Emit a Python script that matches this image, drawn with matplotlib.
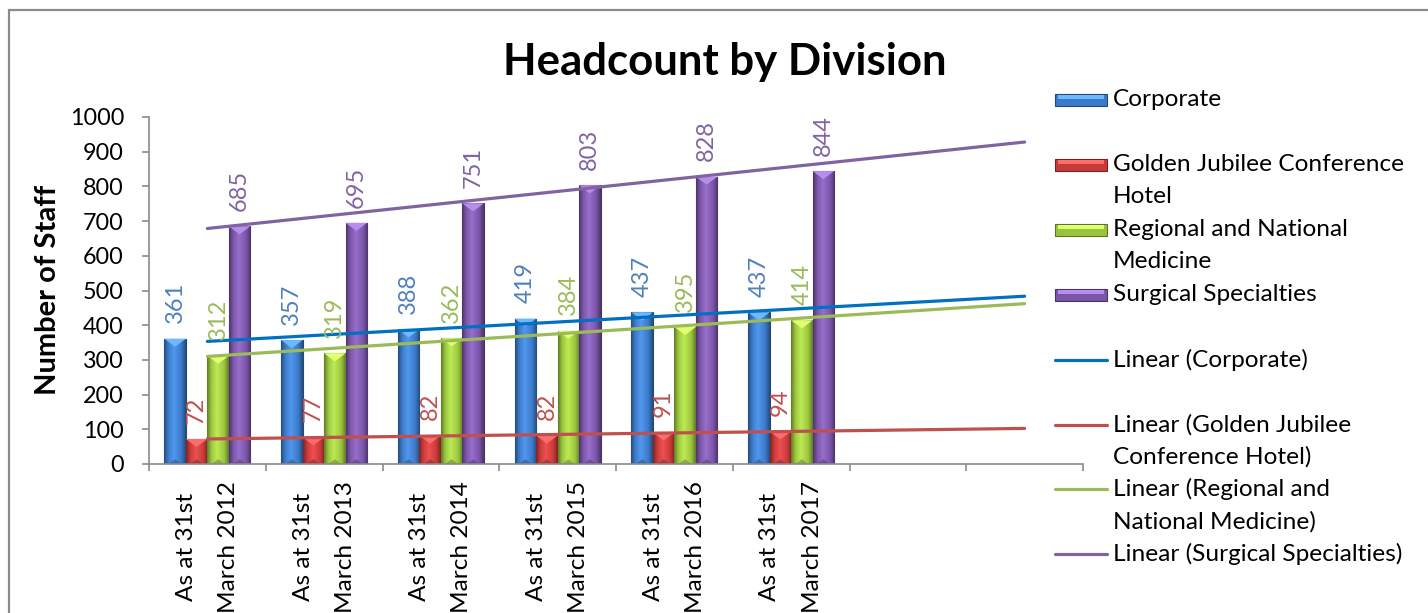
import numpy as np
import matplotlib

matplotlib.use("Agg")
import matplotlib.pyplot as plt  # noqa: E402
from matplotlib.colors import LinearSegmentedColormap, to_rgb  # noqa: E402
from matplotlib.lines import Line2D  # noqa: E402
from matplotlib.patches import Polygon, Rectangle  # noqa: E402

plt.rcParams["font.family"] = ["Lato", "DejaVu Sans"]

# headcount per division, as at 31st March of each year
CATEGORIES = [
    "As at 31st\nMarch 2012",
    "As at 31st\nMarch 2013",
    "As at 31st\nMarch 2014",
    "As at 31st\nMarch 2015",
    "As at 31st\nMarch 2016",
    "As at 31st\nMarch 2017",
]
CORPORATE = [361, 357, 388, 419, 437, 437]
GOLDEN_JUBILEE = [72, 77, 82, 82, 91, 94]
REGIONAL_NATIONAL = [312, 319, 362, 384, 395, 414]
SURGICAL = [685, 695, 751, 803, 828, 844]

SERIES = [CORPORATE, GOLDEN_JUBILEE, REGIONAL_NATIONAL, SURGICAL]
NAMES = [
    "Corporate",
    "Golden Jubilee Conference\nHotel",
    "Regional and National\nMedicine",
    "Surgical Specialties",
]
TREND_NAMES = [
    "Linear (Corporate)",
    "Linear (Golden Jubilee\nConference Hotel)",
    "Linear (Regional and\nNational Medicine)",
    "Linear (Surgical Specialties)",
]
FORECAST_PERIODS = 2  # trendlines run two periods past the data

BAR_COLORS = ["#3B7AC8", "#C83A3A", "#9BC43E", "#7A55A8"]
LABEL_COLORS = ["#4F81BD", "#C0504D", "#9BBB59", "#8064A2"]
TREND_COLORS = ["#0070C0", "#C0504D", "#9BBB59", "#8064A2"]

W, H = 1428, 613
fig = plt.figure(figsize=(W / 100, H / 100), dpi=100)


def px(x, y):
    """Pixel position (from top-left) to figure fraction."""
    return x / W, 1 - y / H


# chart frame, only its top and left edges fall inside the image
fx, fy = px(9, 10)
fig.add_artist(Rectangle((fx, -0.5), 2, fy + 0.5, transform=fig.transFigure,
                         fill=False, edgecolor="#8a8a8a", linewidth=1.6))

ax = fig.add_axes([149 / W, (H - 464) / H, 934 / W, 347 / H])
n_slots = len(CATEGORIES) + FORECAST_PERIODS
ax.set_xlim(0.5, n_slots + 0.5)
ax.set_ylim(0, 1000)

x = np.arange(1, len(CATEGORIES) + 1)
bar_w = 0.184
offsets = (np.arange(len(SERIES)) - (len(SERIES) - 1) / 2) * bar_w

# pixel -> data height, for the bevel on the bar tops
dy_bevel = 8 * 1000 / 347


def bevel(patch, base):
    x0, w, h = patch.get_x(), patch.get_width(), patch.get_height()
    base = np.array(to_rgb(base))
    dark = base * 0.62
    light = np.clip(base * 1.12 + 0.06, 0, 1)
    cmap = LinearSegmentedColormap.from_list(
        "bar", [(0, dark), (0.18, base), (0.45, light), (0.8, base), (1, dark)])
    im = ax.imshow(np.linspace(0, 1, 64)[None, :], cmap=cmap, aspect="auto",
                   extent=(x0, x0 + w, 0, h), zorder=2.1, interpolation="bicubic")
    im.set_clip_path(patch)
    top = np.clip(base * 1.2 + 0.15, 0, 1)
    d = min(dy_bevel, h)
    ax.add_patch(Polygon([(x0, h), (x0 + w, h), (x0 + w / 2, h - d)],
                         closed=True, facecolor=top, edgecolor="none", zorder=2.2))
    ax.add_patch(Polygon([(x0 + w * 0.2, 0), (x0 + w * 0.8, 0), (x0 + w / 2, d * 0.6)],
                         closed=True, facecolor=dark, alpha=0.5, edgecolor="none", zorder=2.2))


for vals, off, col, lcol, tcol in zip(SERIES, offsets, BAR_COLORS, LABEL_COLORS, TREND_COLORS):
    bars = ax.bar(x + off, vals, width=bar_w, color=col,
                  edgecolor=np.array(to_rgb(col)) * 0.6, linewidth=0.8, zorder=2)
    for b in bars:
        bevel(b, col)
    for xi, v in zip(x + off, vals):
        ax.annotate(str(v), (xi, v), xytext=(0, 11), textcoords="offset points",
                    rotation=90, ha="center", va="bottom", fontsize=17,
                    color=lcol, zorder=4)
    # linear trendline fitted on the six years, extended forward
    slope, icpt = np.polyfit(x, vals, 1)
    xt = np.array([1, len(CATEGORIES) + FORECAST_PERIODS])
    ax.plot(xt, slope * xt + icpt, color=tcol, linewidth=2.3, zorder=3,
            solid_capstyle="round")

ax.set_xlim(0.5, n_slots + 0.5)
ax.set_ylim(0, 1000)

for side in ("top", "right"):
    ax.spines[side].set_visible(False)
for side in ("left", "bottom"):
    ax.spines[side].set_color("#8a8a8a")
    ax.spines[side].set_linewidth(1.2)

ax.set_yticks(np.arange(0, 1001, 100))
ax.tick_params(axis="y", length=5, width=1.2, color="#8a8a8a", pad=13,
               labelsize=16.8)
ax.set_xticks(np.arange(0.5, n_slots + 1, 1))
ax.set_xticklabels([])
ax.tick_params(axis="x", which="major", length=5, width=1.2, color="#8a8a8a")
ax.set_xticks(x, minor=True)
ax.set_xticklabels(CATEGORIES, minor=True, rotation=90, fontsize=17.6)
ax.tick_params(axis="x", which="minor", length=0, pad=12)
for lbl in ax.get_xticklabels(minor=True):
    lbl.set_multialignment("center")
    lbl.set_linespacing(2.25)

fig.text(*px(48, 290), "Number of Staff", rotation=90, ha="center", va="center",
         fontsize=21, fontweight="bold")
fig.text(*px(725, 62), "Headcount by Division", ha="center", va="center",
         fontsize=31.5, fontweight="bold")

# legend: bar swatches then trendline handles, each entry two lines tall
entry_step = 64.9
line_step = 32
for i, (name, col) in enumerate(zip(NAMES + TREND_NAMES, BAR_COLORS + TREND_COLORS)):
    yc = 100 + i * entry_step
    if i < len(NAMES):
        base = np.array(to_rgb(col))
        fig.add_artist(Rectangle(px(1055, yc + 6), 52 / W, 12 / H, transform=fig.transFigure,
                                 facecolor=base, edgecolor=base * 0.6, linewidth=0.8))
        fig.add_artist(Rectangle(px(1058, yc - 1), 46 / W, 4 / H, transform=fig.transFigure,
                                 facecolor=np.clip(base * 1.2 + 0.15, 0, 1),
                                 edgecolor="none"))
    else:
        x0, y0 = px(1055, yc)
        x1, _ = px(1107, yc)
        fig.add_artist(Line2D([x0, x1], [y0, y0], transform=fig.transFigure,
                              color=col, linewidth=2.3, solid_capstyle="round"))
    for j, line in enumerate(name.split("\n")):
        fig.text(*px(1113, yc + j * line_step), line, ha="left", va="center",
                 fontsize=17.6)

fig.savefig("out.png", dpi=100)
